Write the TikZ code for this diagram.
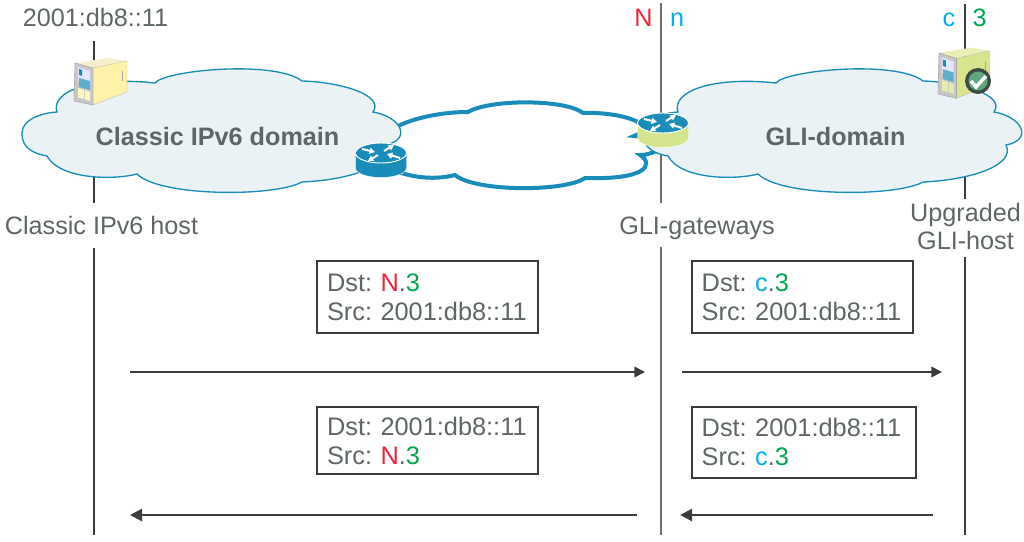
\documentclass[tikz,border=0pt]{standalone}
\usepackage{fontspec}
\setmainfont{Liberation Sans}
\usetikzlibrary{positioning, arrows.meta}
\definecolor{txtGray}{HTML}{5E6668}
\definecolor{lineDark}{HTML}{3C3C3C}
\definecolor{lineGate}{HTML}{6E6E6E}
\definecolor{netRed}{HTML}{ED2437}
\definecolor{netGreen}{HTML}{00A651}
\definecolor{netCyan}{HTML}{00AEEF}
\definecolor{cloudFill}{HTML}{EAF2F5}
\definecolor{ciscoBlue}{HTML}{1A8CBA}
\definecolor{gateGreen}{HTML}{D5E48F}
\definecolor{srvYellow}{HTML}{FDF2A8}
\definecolor{srvTopY}{HTML}{F5F0CC}
\definecolor{srvGreen}{HTML}{D8E58C}
\definecolor{srvTopG}{HTML}{E8EEB4}
\definecolor{badgeRing}{HTML}{3E4A44}
\definecolor{badgeIn}{HTML}{5EA67F}
\tikzset{
  lbl/.style={text=txtGray, font=\fontsize{18.9}{21}\selectfont, inner sep=0pt, anchor=base},
  domainlbl/.style={lbl, font=\fontsize{18.9}{21}\selectfont\bfseries},
  msg/.style={draw=lineDark, line width=1.6pt, fill=white, text=txtGray, align=left, anchor=north west,
    font=\fontsize{19}{21.75}\selectfont, text width=151pt, inner xsep=7.5pt, inner ysep=0pt},
  lifeline/.style={draw=lineDark, line width=1.1pt},
  gateline/.style={draw=lineGate, line width=1.4pt},
  flow/.style={draw=lineDark, line width=1.2pt, -{Triangle[length=8pt, width=8pt]}},
  flowback/.style={draw=lineDark, line width=1.7pt, -{Triangle[length=9pt, width=9pt]}},
  pics/domaincloud/.style={code={
    \path[pic actions] (22,133) .. controls (22,120) and (40,113) .. (57,112)
      .. controls (50,92) and (90,76) .. (155,83)
      .. controls (165,70) and (275,60) .. (302,81)
      .. controls (340,82) and (385,95) .. (373,112)
      .. controls (402,117) and (412,140) .. (385,145)
      .. controls (395,165) and (350,180) .. (302,182)
      .. controls (275,197) and (160,197) .. (137,174)
      .. controls (115,180) and (60,180) .. (47,156)
      .. controls (25,152) and (22,142) .. (22,133) -- cycle;
  }},
  pics/router/.style={code={
    \fill[#1, draw=white, line width=.3pt] (-25.5,0) -- (-25.5,15) arc[start angle=180, end angle=0, x radius=25.5, y radius=9.5] -- (25.5,0) -- cycle;
    \fill[ciscoBlue, draw=white, line width=.7pt] (0,0) ellipse[x radius=25.5, y radius=10];
    \draw[white, line width=1.5pt, -{Triangle[length=4pt, width=4.5pt]}] (-19,-4) -- (-6,-1);
    \draw[white, line width=1.5pt, -{Triangle[length=4pt, width=4.5pt]}] (19,5) -- (6,1);
    \draw[white, line width=1.5pt, -{Triangle[length=4pt, width=4.5pt]}] (3,-2) -- (13,-8);
    \draw[white, line width=1.5pt, -{Triangle[length=4pt, width=4.5pt]}] (-3,2) -- (-13,8);
  }},
  pics/server/.style 2 args={code={
    \fill[#2] (0,0) -- (33,-5) -- (52,-2) -- (18,5) -- cycle;
    \fill[#1, draw=black!25, line width=.3pt] (18,5) -- (52,-2) -- (52,29) -- (18,42) -- cycle;
    \draw[black!35, line width=.6pt] (47,8) -- (47,18);
    \fill[black!22, draw=black!40, line width=.3pt] (0,0) -- (18,5) -- (18,42) -- (-1,38) -- (-1,33) -- cycle;
    \fill[white!90!blue] (3,4) -- (15,8) -- (15,22) -- (3,19) -- cycle;
    \fill[ciscoBlue] (4,6) -- (7,7) -- (7,13) -- (4,12) -- cycle;
    \fill[ciscoBlue!70] (4,15) -- (15,18) -- (15,27) -- (4,24) -- cycle;
    \fill[#1!70!white] (3,25) -- (9,27) -- (9,36) -- (3,34.5) -- cycle;
    \fill[#1!70!white] (10,27) -- (15,29) -- (15,38) -- (10,36.5) -- cycle;
  }}
}
\begin{document}
\frenchspacing
\begin{tikzpicture}[x=.75pt, y=-.75pt]
\useasboundingbox (0,0) rectangle (1024,542);

% end points of the vertical lines
\coordinate (hostTop) at (94,41);
\coordinate (hostMid) at (94,203);
\coordinate (hostLow) at (94,248);
\coordinate (hostEnd) at (94,535);
\coordinate (gateTop) at (661,3);
\coordinate (gateMid) at (661,203);
\coordinate (gateLow) at (661,247);
\coordinate (gateEnd) at (661,535);
\coordinate (gliTop) at (965,4);
\coordinate (gliMid) at (965,199);
\coordinate (gliLow) at (965,257);
\coordinate (gliEnd) at (965,535);

% middle cloud
\path[draw=ciscoBlue, fill=white, line width=3pt] (385,140) .. controls (385,125) and (430,112) .. (468,112)
  .. controls (490,99) and (565,99) .. (583,113)
  .. controls (610,112) and (640,118) .. (648,130)
  -- (634,136) -- (652,138) -- (662,148)
  .. controls (655,152) and (648,155) .. (640,155)
  .. controls (655,165) and (645,180) .. (585,178)
  .. controls (565,192) and (475,192) .. (455,175)
  .. controls (435,180) and (415,178) .. (395,171) -- cycle;

\draw[lifeline] (hostTop) -- (hostMid);
\draw[lifeline] (hostLow) -- (hostEnd);
\draw[gateline] (gateTop) -- (gateMid);
\draw[gateline] (gateLow) -- (gateEnd);
\draw[lifeline] (gliTop) -- (gliMid);
\draw[lifeline] (gliLow) -- (gliEnd);

\pic[draw=ciscoBlue, fill=cloudFill, line width=1pt] (classic) at (0,0) {domaincloud};
\pic[draw=ciscoBlue, fill=cloudFill, line width=1pt] (gli) at (621,0) {domaincloud};

\pic (routerA) at (381,153) {router=ciscoBlue};
\pic (routerB) at (663,123) {router=gateGreen};
\pic (serverA) at (75,63) {server={srvYellow}{srvTopY}};
\pic[xscale=.98, yscale=1.08] (serverB) at (939,53) {server={srvGreen}{srvTopG}};

% check badge on the upgraded host
\fill[badgeRing] (978,81) circle[radius=13];
\fill[badgeIn] (978,81) circle[radius=9.5];
\draw[white, line width=2.6pt] (971,81) -- (976,87) -- (986,76);

\node[lbl] (addrHost) at (95.5,27) {2001:db8::11};
\node[lbl, text=netRed] (addrN) at (643.5,27) {N};
\node[lbl, text=netCyan] (addrn) at (677,27) {n};
\node[lbl, text=netCyan] (addrc) at (949,27) {c};
\node[lbl, text=netGreen] (addr3) at (979.5,27) {3};

\node[domainlbl] (classicName) at (217.5,145) {Classic IPv6 domain};
\node[domainlbl] (gliName) at (835.5,145) {GLI-domain};

\node[lbl] (hostName) at (101.5,234) {Classic IPv6 host};
\node[lbl] (gateName) at (697,234) {GLI-gateways};
\node[lbl] (gliName1) at (965.5,221) {Upgraded};
\node[lbl, below=21pt of gliName1.base, anchor=base] (gliName2) {GLI-host};

\node[msg, minimum height=54pt] (msgOutA) at (316,260) {Dst: \textcolor{netRed}{N}.\textcolor{netGreen}{3}\\Src: 2001:db8::11};
\node[msg, minimum height=50.5pt, below=109.5pt of msgOutA.north west, anchor=north west] (msgBackA) {Dst: 2001:db8::11\\Src: \textcolor{netRed}{N}.\textcolor{netGreen}{3}};
\node[msg, minimum height=54pt, right=281pt of msgOutA.north west, anchor=north west] (msgOutB) {Dst: \textcolor{netCyan}{c}.\textcolor{netGreen}{3}\\Src: 2001:db8::11};
\node[msg, minimum height=53pt, text width=153pt, below=109.5pt of msgOutB.north west, anchor=north west] (msgBackB) {Dst: 2001:db8::11\\Src: \textcolor{netCyan}{c}.\textcolor{netGreen}{3}};

% arrows
\coordinate (outAs) at (130,372);
\coordinate (outAe) at (645,372);
\coordinate (outBs) at (682,372);
\coordinate (outBe) at (942,372);
\coordinate (backAs) at (637,515);
\coordinate (backAe) at (130,515);
\coordinate (backBs) at (933,515);
\coordinate (backBe) at (680,515);
\draw[flow] (outAs) -- (outAe);
\draw[flow] (outBs) -- (outBe);
\draw[flowback] (backAs) -- (backAe);
\draw[flowback] (backBs) -- (backBe);
\end{tikzpicture}
\end{document}
